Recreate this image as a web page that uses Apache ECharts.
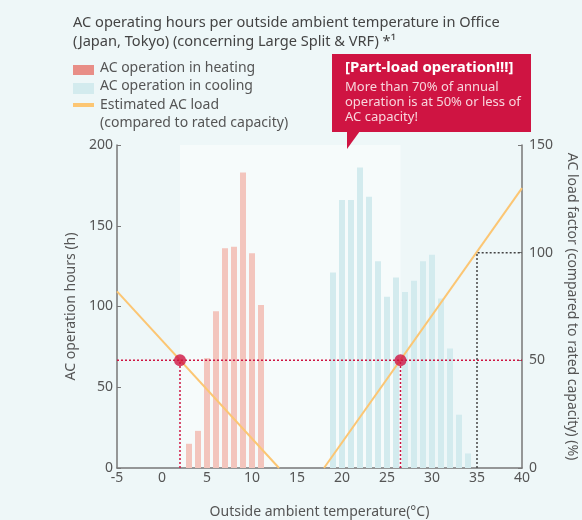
<!DOCTYPE html>
<html><head><meta charset="utf-8">
<script src="https://cdn.jsdelivr.net/npm/echarts@6/dist/echarts.min.js"></script>
<style>html,body{margin:0;padding:0;background:#eef7f8;}#c{width:582px;height:520px;}</style>
</head><body><div id="c"></div>
<script>
// ---- data ----
const heatTemps = [3, 4, 5, 6, 7, 8, 9, 10, 11];
const heatHours = [15, 23, 68, 97, 136, 137, 183, 133, 101];
const coolTemps = [19, 20, 21, 22, 23, 24, 25, 26, 27, 28, 29, 30, 31, 32, 33, 34];
const coolHours = [121, 166, 166, 186, 168, 128, 106, 118, 109, 116, 128, 132, 105, 74, 33, 9];
const heatLoadX = [-5, 13];
const heatLoadY = [82, 0];
const coolLoadX = [18, 40];
const coolLoadY = [0, 130];
const balancePoints = [[2, 50], [26.5, 50]];
const ratedX = 35, ratedLoad = 100;
const xTicks = [-5, 40, 5];
const leftTicks = [0, 200, 50];
const rightTicks = [0, 150, 50];

const FONT = 'Noto Sans';
const RED = '#cf1442';
const zip = (a, b) => a.map((v, i) => [v, b[i]]);

const chart = echarts.init(document.getElementById('c'));
chart.setOption({
  backgroundColor: '#eef7f8',
  animation: false,
  textStyle: { fontFamily: FONT },
  title: {
    text: 'AC operating hours per outside ambient temperature in Office\n(Japan, Tokyo) (concerning Large Split & VRF) *¹',
    left: 68, top: 8,
    textStyle: { fontFamily: FONT, fontSize: 14.6, fontWeight: 'normal', color: '#444', lineHeight: 19 }
  },
  grid: { left: 117, right: 60, top: 145, bottom: 52, outerBoundsMode: 'none', containLabel: false },
  xAxis: {
    type: 'value', min: xTicks[0], max: xTicks[1], interval: xTicks[2],
    name: 'Outside ambient temperature(°C)', nameLocation: 'middle', nameGap: 37,
    nameTextStyle: { fontFamily: FONT, fontSize: 14, color: '#555' },
    axisLine: { onZero: false, lineStyle: { color: '#777', width: 1.5 } },
    axisTick: { show: false },
    axisLabel: { fontFamily: FONT, fontSize: 14, color: '#555', margin: 3 },
    splitLine: { show: false }
  },
  yAxis: [{
    type: 'value', min: leftTicks[0], max: leftTicks[1], interval: leftTicks[2],
    position: 'left',
    name: 'AC operation hours (h)', nameLocation: 'middle', nameGap: 33, nameRotate: 90,
    nameTextStyle: { fontFamily: FONT, fontSize: 14, color: '#555' },
    axisLine: { show: true, onZero: false, lineStyle: { color: '#777', width: 1.5 } },
    axisTick: { show: true, inside: true, length: 4, lineStyle: { color: '#777' } },
    axisLabel: { fontFamily: FONT, fontSize: 14, color: '#555', margin: 4 },
    splitLine: { show: false }
  }, {
    type: 'value', min: rightTicks[0], max: rightTicks[1], interval: rightTicks[2],
    position: 'right',
    name: 'AC load factor (compared to rated capacity) (%)', nameLocation: 'middle', nameGap: 43, nameRotate: -90,
    nameTextStyle: { fontFamily: FONT, fontSize: 14, color: '#555' },
    axisLine: { show: true, onZero: false, lineStyle: { color: '#777', width: 1.5 } },
    axisTick: { show: true, inside: true, length: 4, lineStyle: { color: '#777' } },
    axisLabel: { fontFamily: FONT, fontSize: 14, color: '#555', margin: 7 },
    splitLine: { show: false }
  }],
  series: [
    {
      name: 'AC operation in heating', type: 'bar', barWidth: 6, barGap: '-100%',
      itemStyle: { color: '#f3c5bd' },
      data: zip(heatTemps, heatHours),
      markArea: {
        silent: true, z: -1,
        itemStyle: { color: '#f6fbfb' },
        data: [[{ xAxis: balancePoints[0][0], yAxis: leftTicks[1] }, { xAxis: balancePoints[1][0], yAxis: 0 }]]
      }
    },
    {
      name: 'AC operation in cooling', type: 'bar', barWidth: 6, barGap: '-100%',
      itemStyle: { color: '#d3ebee' },
      data: zip(coolTemps, coolHours)
    },
    {
      name: 'heat load', type: 'line', yAxisIndex: 1, symbol: 'none', z: 3,
      lineStyle: { color: '#fcc673', width: 2 },
      data: zip(heatLoadX, heatLoadY)
    },
    {
      name: 'cool load', type: 'line', yAxisIndex: 1, symbol: 'none', z: 3,
      lineStyle: { color: '#fcc673', width: 2 },
      data: zip(coolLoadX, coolLoadY)
    },
    {
      type: 'line', yAxisIndex: 1, symbol: 'none', z: 4,
      lineStyle: { color: RED, width: 1.5, type: [2, 2] },
      data: [[xTicks[0], 50], [xTicks[1], 50]]
    },
    {
      type: 'line', yAxisIndex: 1, symbol: 'none', z: 4,
      lineStyle: { color: RED, width: 1.5, type: [2, 2] },
      data: [[balancePoints[0][0], 0], [balancePoints[0][0], 50]]
    },
    {
      type: 'line', yAxisIndex: 1, symbol: 'none', z: 4,
      lineStyle: { color: RED, width: 1.5, type: [2, 2] },
      data: [[balancePoints[1][0], 0], [balancePoints[1][0], 50]]
    },
    {
      type: 'line', yAxisIndex: 1, symbol: 'none', z: 4,
      lineStyle: { color: '#444', width: 1.5, type: [2, 2] },
      data: [[ratedX, 0], [ratedX, ratedLoad], [xTicks[1], ratedLoad]]
    },
    {
      type: 'scatter', yAxisIndex: 1, symbolSize: 12, z: 5,
      itemStyle: { color: RED },
      data: balancePoints
    }
  ],
  graphic: [
    { type: 'rect', shape: { x: 73, y: 65, width: 21, height: 10 }, style: { fill: '#e88e87' } },
    { type: 'rect', shape: { x: 73, y: 83, width: 21, height: 11 }, style: { fill: '#d3ebee' } },
    { type: 'rect', shape: { x: 73, y: 103, width: 21, height: 4 }, style: { fill: '#fcc673' } },
    { type: 'text', left: 100, top: 61, style: { text: 'AC operation in heating', font: '14px "Noto Sans"', fill: '#555' } },
    { type: 'text', left: 100, top: 79, style: { text: 'AC operation in cooling', font: '14px "Noto Sans"', fill: '#555' } },
    { type: 'text', left: 100, top: 96, style: { text: 'Estimated AC load\n(compared to rated capacity)', font: '14px "Noto Sans"', fill: '#555', lineHeight: 18 } },
    { type: 'rect', shape: { x: 332, y: 54, width: 199, height: 78 }, style: { fill: RED } },
    { type: 'polygon', shape: { points: [[347, 131], [360, 131], [347, 149]] }, style: { fill: RED } },
    { type: 'text', left: 345, top: 60, style: { text: '[Part-load operation!!!]', font: 'bold 15px "Noto Sans"', fill: '#fff' } },
    { type: 'text', left: 345, top: 80, style: { text: 'More than 70% of annual\noperation is at 50% or less of\nAC capacity!', font: '13px "Noto Sans"', fill: '#f8d5dc', lineHeight: 15 } }
  ]
});
</script></body></html>
